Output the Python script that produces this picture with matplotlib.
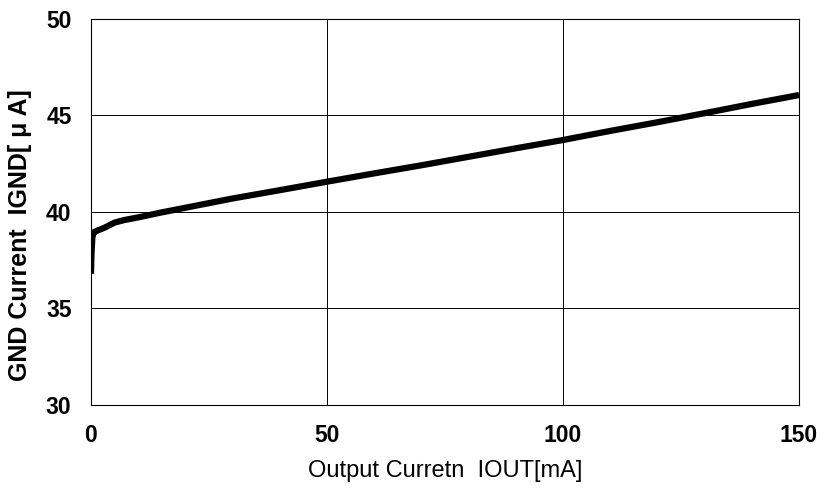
import matplotlib.pyplot as plt

plt.rcParams['font.family'] = ['Liberation Sans', 'DejaVu Sans']

iout = [0, 0.1, 0.3, 0.6, 1, 2, 3, 5, 7, 10, 15, 20, 30, 40, 50,
        60, 70, 80, 90, 100, 110, 120, 130, 140, 150]
ignd = [36.8, 37.8, 38.7, 38.95, 39.0, 39.1, 39.2, 39.45, 39.58, 39.72, 39.98, 40.22, 40.7, 41.13, 41.57,
        42.0, 42.42, 42.86, 43.3, 43.73, 44.2, 44.65, 45.12, 45.6, 46.06]
x_ticks = [0, 50, 100, 150]
y_ticks = [30, 35, 40, 45, 50]

fig = plt.figure(figsize=(8.24, 4.91), dpi=100)
ax = fig.add_axes([0.1104, 0.1752, 0.8593, 0.7861])

ax.plot(iout, ignd, color='black', linewidth=4.5, solid_capstyle='butt')

ax.set_xlim(0, 150)
ax.set_ylim(30, 50)
ax.set_xticks(x_ticks)
ax.set_yticks(y_ticks)
ax.grid(True, color='black', linewidth=0.7)
ax.tick_params(length=0, labelsize=16.5)
ax.tick_params(axis='y', pad=14)
ax.tick_params(axis='x', pad=14)
for lbl in ax.get_xticklabels() + ax.get_yticklabels():
    lbl.set_fontweight('bold')
for s in ax.spines.values():
    s.set_linewidth(0.8)

ax.set_xlabel('Output Curretn  IOUT[mA]', fontsize=17)
ax.set_ylabel('GND Current  IGND[ μ A]', fontsize=18, fontweight='bold')
ax.xaxis.set_label_coords(0.5, -0.142)
ax.yaxis.set_label_coords(-0.083, 0.44)

fig.savefig('out.png', dpi=100)
